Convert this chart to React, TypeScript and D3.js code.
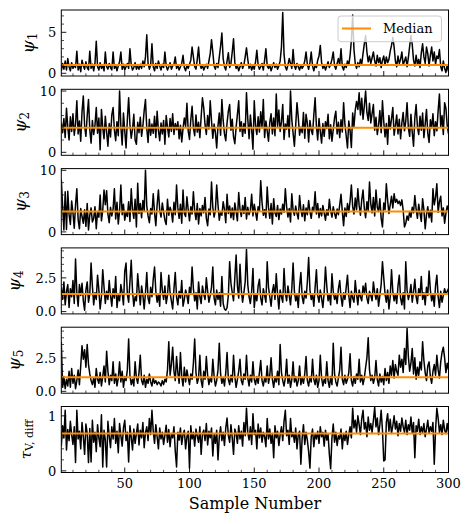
import * as d3 from "d3";

// sample values, one array per panel (samples 1..300)
const psi1 = [
  0.3, 1.2, 0.5, 1.5, 0.4, 1.8, 0.8, 0.3, 1.3, 0.6, 1.0, 0.7, 2.7, 0.4, 1.1, 0.2, 1.6, 0.9, 0.5, 1.4,
  0.7, 0.4, 2.7, 0.6, 1.1, 0.3, 1.2, 3.9, 0.8, 0.4, 1.3, 0.6, 0.9, 0.3, 2.6, 0.8, 0.5, 1.2, 0.7, 0.4,
  2.6, 0.6, 1.0, 0.3, 0.9, 1.4, 2.6, 0.5, 1.1, 0.4, 0.8, 1.2, 0.6, 3.0, 1.0, 0.4, 0.7, 1.3, 0.5, 0.9,
  0.5, 1.1, 0.6, 1.5, 0.8, 2.0, 4.7, 1.2, 0.5, 1.0, 3.6, 0.8, 0.3, 1.2, 0.6, 1.5, 0.9, 0.4, 1.1, 0.7,
  2.6, 0.9, 0.4, 0.8, 1.3, 0.5, 0.9, 1.1, 2.0, 0.6, 1.0, 0.4, 0.8, 1.2, 2.2, 0.7, 0.3, 1.0, 0.6, 1.1,
  1.6, 3.2, 2.0, 0.8, 0.5, 1.7, 3.2, 1.1, 0.6, 1.0, 0.4, 0.8, 1.1, 0.6, 1.5, 2.4, 4.1, 2.6, 0.9, 0.5,
  1.2, 0.7, 2.0, 3.3, 4.9, 1.8, 0.8, 0.4, 1.5, 2.5, 0.7, 1.2, 2.6, 4.2, 1.3, 0.6, 0.9, 0.3, 0.8, 1.3,
  0.6, 1.0, 2.0, 3.1, 1.7, 0.6, 1.1, 0.4, 0.9, 0.5, 1.4, 2.8, 1.0, 0.5, 0.8, 1.2, 0.4, 1.6, 3.0, 0.9,
  0.6, 1.0, 0.3, 0.8, 1.3, 0.7, 1.1, 0.5, 0.9, 1.5, 3.2, 7.4, 2.3, 0.8, 0.4, 1.0, 1.8, 1.2, 0.6, 2.9,
  0.9, 0.5, 1.2, 0.8, 0.4, 1.0, 0.6, 0.9, 1.5, 2.6, 1.1, 0.5, 1.3, 2.6, 0.9, 0.3, 1.0, 0.7, 1.6, 2.1,
  3.4, 1.3, 0.6, 1.0, 0.4, 0.9, 1.4, 0.7, 1.1, 1.7, 2.6, 0.9, 0.5, 1.2, 1.8, 1.0, 3.0, 0.8, 0.4, 1.1,
  0.7, 1.5, 1.0, 2.2, 4.0, 7.1, 2.9, 1.2, 0.6, 1.3, 0.8, 1.7, 1.1, 2.4, 3.6, 4.6, 2.6, 1.4, 2.1, 1.2,
  1.9, 2.6, 1.5, 0.9, 2.2, 1.3, 1.9, 0.7, 1.6, 2.1, 1.0, 2.0, 1.3, 1.7, 2.7, 3.4, 4.4, 3.2, 1.5, 0.8,
  2.1, 1.2, 1.7, 2.6, 1.0, 1.5, 2.0, 0.8, 1.9, 3.3, 4.6, 3.5, 1.6, 0.9, 2.2, 1.1, 1.7, 0.7, 2.5, 3.6,
  2.0, 1.2, 3.2, 2.4, 0.9, 2.2, 3.2, 1.5, 2.6, 1.1, 2.1, 1.8, 2.9, 0.8, 0.3, 1.5, 0.6, 0.1, 1.0, 0.2,
];

const psi2 = [
  4.8, 3.2, 5.5, 2.4, 7.2, 4.1, 2.0, 5.8, 3.4, 6.3, 2.8, 4.6, 8.4, 3.0, 5.1, 1.8, 6.6, 9.2, 4.3, 2.6,
  6.0, 8.6, 3.7, 1.5, 5.2, 2.9, 4.4, 7.3, 3.1, 5.6, 0.4, 7.0, 4.0, 2.2, 5.9, 3.3, 1.0, 4.7, 2.5, 6.1,
  7.3, 3.6, 1.9, 5.0, 2.7, 10.0, 4.2, 1.2, 6.4, 3.5, 0.7, 5.3, 8.9, 4.5, 2.3, 3.8, 6.2, 2.0, 1.3, 4.9,
  3.2, 5.7, 2.6, 4.3, 6.8, 8.6, 3.9, 1.6, 5.4, 2.8, 4.6, 3.1, 5.9, 2.4, 6.7, 3.6, 1.9, 4.8, 3.0, 5.2,
  1.3, 6.0, 4.1, 2.5, 5.5, 3.4, 6.3, 2.9, 4.7, 3.7, 5.0, 2.2, 4.4, 1.7, 3.9, 5.6, 4.2, 8.0, 3.5, 2.1,
  5.3, 7.5, 4.0, 2.7, 6.1, 3.3, 4.9, 2.4, 5.8, 8.9, 7.2, 4.5, 2.9, 6.0, 3.8, 8.4, 5.1, 2.3, 4.6, 3.2,
  0.7, 4.3, 6.4, 2.8, 8.6, 5.2, 3.0, 1.9, 4.8, 6.7, 7.8, 3.6, 5.4, 2.5, 1.4, 4.1, 6.2, 8.4, 3.4, 5.0,
  2.6, 4.7, 3.1, 9.7, 5.5, 2.2, 6.1, 3.7, 0.5, 8.4, 4.4, 2.9, 5.8, 3.3, 6.6, 4.0, 8.6, 2.4, 5.1, 3.5,
  1.8, 4.9, 6.3, 3.0, 5.6, 2.7, 9.5, 4.2, 6.9, 3.4, 5.0, 7.8, 2.1, 4.6, 3.8, 6.0, 2.5, 10.0, 5.3, 3.1,
  1.0, 4.4, 8.1, 5.7, 2.8, 4.1, 3.2, 6.5, 2.3, 6.2, 4.8, 1.7, 5.2, 3.6, 2.9, 6.1, 8.9, 4.3, 2.0, 5.5,
  3.4, 1.5, 4.7, 2.6, 5.0, 3.9, 6.2, 2.2, 4.5, 1.8, 3.7, 5.6, 6.7, 3.0, 4.9, 2.4, 5.3, 3.3, 8.1, 4.6,
  2.7, 0.7, 5.1, 3.5, 0.8, 6.4, 4.2, 6.9, 8.3, 7.0, 9.7, 6.1, 8.8, 5.4, 7.6, 10.0, 6.5, 5.2, 8.0, 4.8,
  6.3, 7.8, 3.6, 5.7, 2.9, 4.4, 6.8, 3.2, 8.4, 5.0, 2.5, 4.7, 1.3, 6.0, 3.8, 5.5, 7.3, 2.8, 4.3, 6.1,
  3.0, 5.4, 2.2, 4.8, 6.5, 3.5, 5.1, 8.1, 4.0, 2.6, 6.2, 3.3, 1.0, 5.6, 7.8, 4.2, 2.9, 5.9, 3.6, 6.4,
  2.4, 4.6, 7.0, 3.1, 1.6, 5.3, 4.0, 6.3, 2.7, 5.0, 3.5, 6.8, 9.5, 4.1, 6.0, 2.9, 8.1, 7.2, 4.4, 3.0,
];

const psi3 = [
  8.5, 4.2, 0.3, 6.5, 0.4, 6.6, 2.8, 1.2, 5.0, 3.1, 0.6, 4.4, 7.0, 2.0, 0.5, 3.8, 2.5, 1.4, 3.6, 0.9,
  4.6, 0.3, 2.7, 3.9, 1.6, 2.2, 4.1, 0.5, 3.3, 2.4, 6.0, 1.8, 3.5, 6.8, 4.4, 6.7, 2.9, 1.5, 4.0, 2.6,
  3.7, 7.0, 2.1, 4.8, 1.3, 3.4, 7.6, 2.8, 4.5, 1.9, 3.2, 2.5, 4.9, 1.7, 7.0, 3.6, 2.2, 5.3, 0.8, 7.9,
  3.0, 4.6, 2.3, 5.1, 3.4, 10.0, 4.2, 2.6, 1.5, 3.8, 2.9, 6.2, 3.1, 1.0, 4.4, 6.8, 3.5, 2.4, 4.7, 3.2,
  1.9, 1.2, 5.3, 2.7, 4.0, 3.3, 1.6, 4.8, 2.8, 7.6, 3.9, 2.2, 4.5, 1.4, 6.8, 3.0, 2.5, 5.7, 3.6, 1.8,
  4.1, 2.9, 6.5, 3.4, 2.0, 4.6, 1.3, 3.8, 2.6, 4.3, 3.1, 5.6, 2.2, 1.0, 3.7, 2.8, 8.1, 4.0, 2.4, 3.5,
  7.6, 4.4, 1.9, 3.2, 2.7, 4.9, 3.6, 1.5, 6.1, 3.0, 4.2, 2.3, 3.9, 2.0, 4.7, 3.3, 1.8, 6.4, 3.7, 2.5,
  4.3, 3.0, 5.6, 2.1, 4.0, 2.8, 3.5, 6.1, 2.6, 4.5, 3.2, 1.9, 4.1, 3.4, 8.3, 4.8, 2.7, 3.6, 2.3, 7.3,
  3.9, 2.2, 4.6, 1.3, 5.4, 3.1, 2.5, 4.3, 2.0, 3.7, 2.9, 4.5, 3.2, 7.0, 4.1, 2.4, 3.8, 1.6, 6.2, 3.5,
  2.7, 4.2, 3.0, 2.1, 5.9, 3.6, 2.5, 4.4, 1.8, 3.9, 2.8, 5.1, 3.3, 2.2, 4.0, 3.5, 6.5, 2.9, 4.6, 2.3,
  3.8, 2.6, 4.3, 3.1, 1.9, 3.6, 2.7, 5.3, 3.4, 2.4, 4.1, 3.0, 2.2, 3.7, 2.8, 4.4, 6.1, 3.3, 1.0, 3.9,
  2.5, 4.6, 3.2, 5.0, 7.6, 4.1, 2.9, 5.5, 3.6, 7.0, 4.3, 2.7, 5.2, 6.8, 3.8, 2.3, 4.9, 3.4, 8.1, 4.5,
  3.1, 5.6, 2.6, 6.8, 4.0, 3.3, 5.4, 2.2, 0.8, 4.7, 3.6, 7.8, 5.1, 3.0, 4.4, 5.8, 3.9, 6.2, 4.8, 5.3,
  4.6, 5.0, 4.3, 5.2, 3.5, 0.8, 1.4, 2.6, 1.9, 3.3, 2.4, 4.0, 3.1, 5.9, 3.7, 2.2, 4.5, 3.0, 1.7, 5.4,
  3.6, 0.5, 2.8, 4.1, 2.3, 3.5, 1.6, 7.0, 4.4, 5.6, 7.8, 3.2, 4.9, 5.8, 2.6, 3.9, 1.4, 3.0, 4.2, 3.5,
];

const psi4 = [
  1.8, 0.9, 2.2, 0.5, 1.5, 2.0, 0.3, 1.7, 1.1, 2.3, 0.6, 3.9, 1.4, 0.4, 2.0, 1.2, 2.1, 0.8, 0.1, 1.6,
  2.2, 0.7, 1.3, 3.6, 1.9, 0.5, 1.4, 0.9, 2.7, 1.6, 0.2, 1.1, 3.1, 1.8, 0.6, 1.5, 0.9, 2.3, 1.2, 0.4,
  1.7, 1.0, 2.6, 0.3, 1.2, 0.8, 2.0, 1.4, 0.5, 3.0, 3.6, 1.3, 0.7, 2.2, 3.8, 1.5, 0.4, 1.1, 0.8, 2.8,
  1.6, 0.5, 1.9, 1.2, 0.2, 1.4, 2.9, 1.0, 0.6, 1.8, 1.1, 2.4, 3.3, 1.5, 0.7, 1.3, 0.4, 2.9, 1.6, 0.9,
  1.9, 0.6, 1.2, 2.7, 1.4, 0.8, 0.2, 1.7, 2.9, 1.1, 0.5, 1.5, 1.0, 2.3, 0.4, 0.9, 1.6, 1.2, 0.6, 1.8,
  1.3, 3.3, 1.7, 0.8, 1.4, 0.2, 2.2, 1.1, 0.6, 1.9, 1.3, 0.9, 2.5, 1.5, 0.7, 1.2, 1.8, 3.3, 1.0, 0.5,
  1.6, 0.9, 1.4, 0.4, 2.6, 0.6, 0.2, 0.1, 0.3, 1.2, 3.7, 2.1, 1.4, 0.8, 2.5, 4.2, 1.9, 1.0, 3.5, 1.6,
  0.7, 1.4, 2.2, 4.6, 2.0, 1.1, 0.6, 1.5, 3.2, 0.3, 1.3, 0.8, 1.9, 2.4, 1.0, 0.5, 1.7, 1.2, 0.7, 3.7,
  1.8, 1.1, 0.4, 1.5, 2.0, 0.9, 2.8, 1.3, 0.2, 1.6, 1.1, 0.7, 3.2, 1.4, 0.8, 1.9, 1.2, 0.5, 1.7, 3.6,
  1.5, 0.8, 1.2, 0.3, 1.9, 2.9, 1.1, 0.6, 1.5, 1.0, 2.2, 4.0, 1.6, 0.9, 1.3, 0.4, 1.8, 3.1, 1.2, 0.7,
  1.6, 1.0, 0.3, 1.4, 3.3, 1.9, 0.8, 1.3, 0.5, 2.8, 1.5, 0.9, 1.2, 0.6, 1.7, 2.3, 1.1, 0.4, 1.4, 0.9,
  1.8, 2.7, 1.2, 0.3, 1.5, 1.0, 0.7, 2.3, 1.3, 0.5, 1.6, 1.1, 0.8, 1.9, 1.4, 2.1, 1.0, 0.6, 1.5, 1.2,
  0.8, 2.2, 1.4, 0.9, 1.7, 0.4, 1.2, 2.0, 3.7, 2.5, 1.3, 0.7, 1.6, 0.2, 1.1, 3.1, 1.5, 0.8, 1.3, 0.6,
  1.9, 2.7, 1.0, 0.5, 1.4, 0.2, 3.7, 1.6, 0.9, 1.3, 2.0, 0.7, 1.5, 2.4, 1.1, 0.6, 1.7, 1.2, 2.6, 0.9,
  1.4, 0.5, 1.8, 1.2, 3.0, 1.6, 0.8, 1.3, 0.4, 1.9, 2.7, 1.1, 0.3, 1.5, 0.7, 1.2, 1.7, 1.3, 1.5, 1.7,
];

const psi5 = [
  3.7, 0.3, 1.1, 0.2, 0.9, 0.4, 1.5, 0.3, 1.7, 0.6, 1.2, 0.2, 0.8, 1.6, 0.5, 1.9, 3.4, 2.4, 3.1, 1.8,
  3.5, 2.0, 1.3, 0.8, 0.5, 1.0, 0.3, 1.7, 0.9, 0.6, 1.4, 0.4, 1.1, 1.9, 0.7, 3.0, 1.5, 0.5, 1.2, 0.8,
  2.2, 0.6, 1.3, 0.4, 1.0, 2.2, 0.7, 1.5, 0.3, 1.1, 0.8, 1.6, 3.9, 1.2, 0.5, 0.9, 0.4, 2.2, 1.0, 0.6,
  1.4, 2.7, 0.8, 0.5, 1.2, 0.3, 0.9, 0.6, 1.3, 0.7, 0.4, 1.0, 0.6, 0.8, 0.5, 0.7, 0.6, 0.4, 0.8, 0.5,
  0.9, 0.7, 1.6, 3.7, 1.2, 2.0, 3.3, 1.5, 0.8, 2.6, 1.4, 0.6, 2.9, 1.1, 0.4, 1.8, 0.7, 1.6, 1.0, 0.5,
  1.3, 0.9, 2.1, 3.9, 1.4, 0.6, 1.0, 2.7, 0.8, 0.3, 1.5, 0.9, 2.6, 1.2, 0.5, 1.0, 0.7, 2.4, 1.1, 0.4,
  0.8, 1.6, 3.6, 1.3, 0.6, 1.0, 0.4, 1.4, 2.9, 0.9, 0.5, 1.2, 0.7, 2.7, 1.1, 0.3, 0.9, 1.5, 2.4, 0.8,
  0.5, 1.3, 0.9, 2.7, 1.0, 0.4, 1.2, 0.7, 2.2, 0.9, 0.5, 1.1, 0.6, 1.4, 2.3, 0.8, 0.4, 1.0, 0.7, 1.9,
  0.6, 1.2, 2.5, 0.9, 0.3, 1.1, 0.7, 1.5, 0.5, 3.5, 1.4, 0.8, 0.4, 1.0, 2.4, 0.6, 1.2, 0.3, 0.9, 2.2,
  0.7, 1.1, 0.4, 0.8, 1.9, 0.5, 1.0, 0.6, 1.3, 2.6, 0.8, 0.4, 1.1, 0.7, 2.4, 0.9, 0.5, 1.2, 0.3, 0.8,
  2.7, 1.0, 0.4, 0.9, 0.6, 2.2, 0.8, 0.3, 1.1, 0.5, 3.6, 1.3, 0.7, 0.4, 1.0, 1.6, 3.3, 0.9, 0.5, 1.2,
  0.6, 0.9, 1.4, 2.8, 0.8, 0.4, 1.1, 0.6, 1.3, 0.9, 2.4, 0.7, 1.2, 0.5, 1.0, 1.8, 2.5, 4.0, 1.6, 0.8,
  1.2, 0.6, 1.0, 2.3, 0.9, 0.4, 1.3, 0.7, 1.1, 0.5, 1.7, 0.8, 1.4, 0.6, 1.9, 1.2, 2.3, 1.0, 2.0, 1.5,
  1.2, 2.7, 1.8, 2.4, 1.4, 3.2, 2.0, 4.7, 2.6, 1.5, 2.1, 3.2, 1.3, 2.5, 0.9, 1.8, 1.2, 2.2, 1.6, 3.7,
  2.3, 1.4, 0.8, 1.9, 2.2, 1.1, 0.6, 1.5, 2.0, 1.2, 2.7, 1.6, 1.0, 2.2, 2.9, 3.3, 2.5, 1.4, 2.1, 1.6,
];

const tauVdiff = [
  0.45, 0.82, 0.6, 1.1, 0.38, 0.75, 0.55, 0.9, 0.66, 0.48, 0.8, 0.15, 1.1, 0.58, 0.72, 0.4, 0.88, 0.62, 0.3, 0.85,
  0.68, 0.15, 0.77, 0.16, 0.92, 0.52, 0.7, 0.35, 0.84, 0.6, 0.44, 1.02, 0.07, 0.74, 0.56, 0.07, 0.9, 0.63, 0.42, 0.8,
  0.58, 0.95, 0.5, 0.72, 0.33, 0.86, 0.64, 0.45, 0.78, 0.92, 0.55, 0.7, 0.16, 0.82, 0.61, 0.38, 0.76, 0.5, 0.68, 0.85,
  0.47, 0.74, 0.6, 0.88, 0.42, 0.7, 0.8, 0.55, 0.95, 0.66, 1.1, 0.72, 0.5, 0.84, 0.62, 0.4, 0.78, 0.58, 0.7, 0.48,
  0.65, 0.83, 0.52, 0.75, 0.44, 0.68, 0.6, 0.8, 0.36, 0.07, 0.7, 0.56, 0.78, 0.48, 0.66, 0.74, 0.4, 0.62, 0.72, 0.05,
  0.82, 0.58, 0.7, 0.45, 0.76, 0.63, 0.52, 0.8, 0.3, 0.68, 0.74, 0.55, 0.86, 0.47, 0.72, 0.6, 0.78, 0.27, 0.66, 0.5,
  0.74, 0.2, 0.62, 0.8, 0.55, 0.7, 0.46, 0.78, 0.96, 0.64, 0.52, 0.84, 0.6, 0.3, 0.76, 0.68, 0.5, 0.82, 0.58, 0.72,
  0.45, 0.88, 0.64, 1.14, 0.7, 0.56, 0.8, 0.48, 1.04, 0.66, 0.74, 0.4, 0.85, 0.6, 0.78, 0.52, 0.7, 0.62, 0.44, 0.95,
  0.58, 0.76, 0.5, 0.68, 0.24, 0.82, 0.6, 0.72, 0.46, 0.66, 0.8, 0.55, 0.9, 1.1, 0.64, 0.74, 0.48, 0.95, 0.62, 0.7,
  0.52, 0.78, 0.4, 0.66, 0.72, 0.12, 0.6, 0.84, 0.48, 0.7, 0.56, 0.35, 0.05, 0.62, 0.76, 0.44, 0.68, 0.58, 0.72, 0.5,
  0.8, 0.62, 0.7, 0.45, 0.74, 0.56, 0.66, 0.3, 0.04, 0.6, 0.85, 0.52, 0.7, 0.46, 0.64, 0.58, 0.76, 0.4, 0.68, 0.55,
  0.72, 0.48, 0.66, 0.8, 0.6, 1.14, 0.78, 0.92, 0.7, 1.0, 0.84, 0.66, 0.95, 1.1, 0.76, 0.88, 0.62, 0.98, 0.74, 0.86,
  0.7, 0.92, 1.15, 0.8, 0.96, 0.66, 0.84, 1.1, 0.74, 0.18, 0.2, 0.88, 1.04, 0.72, 0.94, 0.68, 0.82, 1.0, 0.76, 0.9,
  0.64, 0.86, 0.72, 0.96, 0.8, 0.7, 0.92, 0.66, 0.84, 0.74, 0.98, 0.68, 0.88, 0.24, 0.82, 0.72, 0.94, 0.66, 0.8, 0.7,
  0.86, 0.62, 0.76, 0.92, 0.68, 0.8, 0.72, 0.88, 0.12, 0.74, 1.14, 0.96, 0.7, 0.84, 0.66, 0.92, 0.74, 0.68, 0.86, 0.7,
];

const series = [psi1, psi2, psi3, psi4, psi5, tauVdiff];
const medians = [1.0, 4.0, 3.3, 1.3, 1.05, 0.68];
const yDomains: [number, number][] = [
  [-0.33, 7.72],
  [-0.49, 10.28],
  [-0.44, 10.28],
  [-0.17, 4.72],
  [-0.14, 4.79],
  [-0.03, 1.17],
];
const yMajorTicks = [[0, 5], [0, 10], [0, 10], [0, 2.5], [0, 2.5], [0, 1]];
const yTickLabels = [["0", "5"], ["0", "10"], ["0", "10"], ["0.0", "2.5"], ["0.0", "2.5"], ["0", "1"]];
const yMinorSteps = [1, 2, 2, 0.5, 0.5, 0.2];
const yLabelSymbols = ["ψ", "ψ", "ψ", "ψ", "ψ", "τ"];
const yLabelSubs = ["1", "2", "3", "4", "5", "V, diff"];
const xMajorTicks = [50, 100, 150, 200, 250, 300];
const xLabel = "Sample Number";
const legendLabel = "Median";

const W = 471;
const H = 524;
const LEFT = 61.3;
const RIGHT = 448.5;
const TOP = 10;
const STEP = 79.3;
const PH = 66;
const FONT = "DejaVu Serif, serif";
const ORANGE = "#ff8c00";
// y label baseline x, follows the width of each panel's tick labels
const LABEL_X = [34, 26, 26, 20, 20, 31];

const samples = d3.range(1, 301);
const x = d3.scaleLinear().domain([1, 300]).range([LEFT, RIGHT]);
const xMinor = d3.range(10, 300, 10).filter((v) => v % 50 !== 0);

function Panel({ i }: { i: number }) {
  const top = TOP + i * STEP;
  const bottom = top + PH;
  const y = d3.scaleLinear().domain(yDomains[i]).range([bottom, top]);
  const line = d3
    .line<number>()
    .x((_, k) => x(samples[k]))
    .y((d) => y(d));
  const step = yMinorSteps[i];
  const minor = d3
    .range(0, yDomains[i][1], step)
    .map((v) => +v.toFixed(3))
    .filter((v) => !yMajorTicks[i].some((m) => Math.abs(m - v) < 1e-6));
  const isLast = i === series.length - 1;
  const midY = (top + bottom) / 2;

  return (
    <g>
      <defs>
        <clipPath id={`clip${i}`}>
          <rect x={LEFT} y={top} width={RIGHT - LEFT} height={PH} />
        </clipPath>
      </defs>
      <g clipPath={`url(#clip${i})`}>
        <path d={line(series[i]) ?? ""} fill="none" stroke="#000" strokeWidth={1.5} strokeLinejoin="round" />
        <line x1={LEFT} x2={RIGHT} y1={y(medians[i])} y2={y(medians[i])} stroke={ORANGE} strokeWidth={2} />
      </g>
      <rect x={LEFT} y={top} width={RIGHT - LEFT} height={PH} fill="none" stroke="#000" strokeWidth={1} />
      {/* y ticks */}
      {yMajorTicks[i].map((t, k) => (
        <g key={`ym${k}`}>
          <line x1={LEFT} x2={LEFT + 5} y1={y(t)} y2={y(t)} stroke="#000" strokeWidth={0.9} />
          <text x={LEFT - 5} y={y(t)} dy="0.36em" textAnchor="end" fontSize={13} fontFamily={FONT}>
            {yTickLabels[i][k]}
          </text>
        </g>
      ))}
      {minor.map((t) => (
        <line key={`yn${t}`} x1={LEFT} x2={LEFT + 2.7} y1={y(t)} y2={y(t)} stroke="#000" strokeWidth={0.7} />
      ))}
      {/* x ticks */}
      {xMajorTicks.map((t) => (
        <line key={`xm${t}`} x1={x(t)} x2={x(t)} y1={bottom} y2={bottom - 5} stroke="#000" strokeWidth={0.9} />
      ))}
      {xMinor.map((t) => (
        <line key={`xn${t}`} x1={x(t)} x2={x(t)} y1={bottom} y2={bottom - 2.7} stroke="#000" strokeWidth={0.7} />
      ))}
      {isLast &&
        xMajorTicks.map((t) => (
          <text key={`xl${t}`} x={x(t)} y={bottom + 6} dy="0.76em" textAnchor="middle" fontSize={13} fontFamily={FONT}>
            {t}
          </text>
        ))}
      {/* y label */}
      <text transform={`translate(${LABEL_X[i]},${midY}) rotate(-90)`} textAnchor="middle" fontFamily={FONT}>
        <tspan fontStyle="italic" fontSize={isLast ? 15 : 17}>
          {yLabelSymbols[i]}
        </tspan>
        <tspan fontSize={isLast ? 11 : 12} dy={isLast ? 2 : 3}>
          {yLabelSubs[i]}
        </tspan>
      </text>
    </g>
  );
}

export default function App() {
  return (
    <svg width={W} height={H} style={{ position: "absolute", left: 0, top: 0, background: "#fff" }}>
      <rect width={W} height={H} fill="#fff" />
      {series.map((_, i) => (
        <Panel key={i} i={i} />
      ))}
      <text x={(LEFT + RIGHT) / 2} y={503} dy="0.35em" textAnchor="middle" fontSize={16} fontFamily={FONT}>
        {xLabel}
      </text>
      {/* legend */}
      <g>
        <rect x={338} y={16} width={103.5} height={25.7} rx={3} fill="#fff" fillOpacity={0.8} stroke="#cccccc" strokeWidth={1} />
        <line x1={342} x2={371} y1={28.5} y2={28.5} stroke={ORANGE} strokeWidth={2} />
        <text x={383} y={28.5} dy="0.35em" fontSize={13} fontFamily={FONT}>
          {legendLabel}
        </text>
      </g>
    </svg>
  );
}
